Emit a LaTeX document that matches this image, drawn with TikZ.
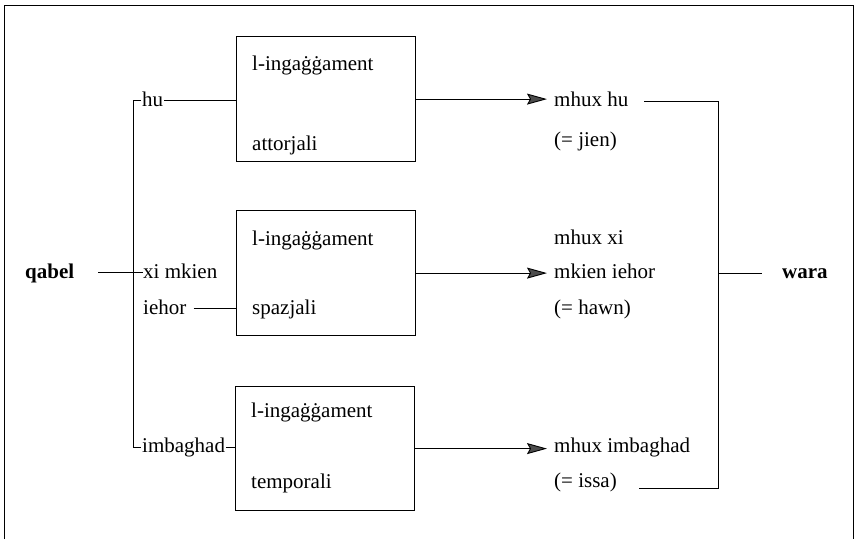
\documentclass[tikz,border=0pt]{standalone}
\usepackage{fontspec}
\setmainfont{Liberation Serif}
\usetikzlibrary{arrows.meta}
\begin{document}
\begin{tikzpicture}[x=1pt,y=-1pt,
  txt/.style={anchor=base west, inner sep=0pt, font=\rmfamily\fontsize{21}{25}\selectfont},
  btxt/.style={txt, font=\rmfamily\fontsize{21}{25}\selectfont\bfseries},
  boxst/.style={draw, line width=1.2pt, minimum width=179pt, minimum height=125pt, anchor=north west, inner sep=0pt},
  ln/.style={line width=0.9pt},
  arr/.style={line width=0.9pt, -{Stealth[length=20pt,width=11pt,inset=3pt,fill=gray!60!black]}}]
\useasboundingbox (0,0) rectangle (855,539);
% frame
\draw[line width=1pt] (4,539) -- (4,5) -- (853,5) -- (853,539);
% boxes
\node[boxst] (b1) at (236,36) {};
\node[boxst] (b2) at (236,210) {};
\node[boxst, minimum height=124pt] (b3) at (235,386) {};
% box texts
\node[txt] (b1a) at (252,70) {l-ingaġġament};
\node[txt] (b1b) at (252,150) {attorjali};
\node[txt] (b2a) at (252,245) {l-ingaġġament};
\node[txt] (b2b) at (252,314) {spazjali};
\node[txt] (b3a) at (251,417) {l-ingaġġament};
\node[txt] (b3b) at (251,488) {temporali};
% left labels
\node[btxt] (qabel) at (25,278) {qabel};
\node[txt] (hu) at (142,106) {hu};
\node[txt] (xi) at (143,278) {xi mkien};
\node[txt] (iehor) at (143,314) {iehor};
\node[txt] (imb) at (142,452) {imbaghad};
% right labels
\node[txt] (m1) at (554,106) {mhux hu};
\node[txt] (m1b) at (554,146) {(= jien)};
\node[txt] (m2) at (554,244) {mhux xi};
\node[txt] (m2b) at (554,278) {mkien iehor};
\node[txt] (m2c) at (554,314) {(= hawn)};
\node[txt] (m3) at (554,452) {mhux imbaghad};
\node[txt] (m3b) at (554,487) {(= issa)};
\node[btxt] (wara) at (782,278) {wara};
% coordinates
\coordinate (tTop) at (133,100);
\coordinate (tBot) at (133,447);
\coordinate (qEnd) at (98,272);
\coordinate (rTop) at (718,101);
\coordinate (rBot) at (718,488);
\coordinate (rMid) at (718,273);
% left tree
\draw[ln] ([xshift=-1pt]hu.west |- tTop) -- (tTop) -- (tBot) -- ([xshift=-1pt]imb.west |- tBot);
\draw[ln] ([xshift=1pt]hu.east |- tTop) -- (b1.west |- tTop);
\draw[ln] (qEnd) -- (xi.west |- qEnd);
\draw[ln] ([xshift=7pt]iehor.east |- 0,308) -- (b2.west |- 0,308);
\draw[ln] ([xshift=1pt]imb.east |- tBot) -- (b3.west |- tBot);
% arrows
\draw[arr] (b1.east) -- ([xshift=-7pt]m1.west |- b1.east);
\draw[arr] (b2.east) -- ([xshift=-7pt]m2b.west |- b2.east);
\draw[arr] (b3.east) -- ([xshift=-7pt]m3.west |- b3.east);
% right bracket
\draw[ln] ([xshift=16pt]m1.east |- rTop) -- (rTop) -- (rBot) -- ([xshift=22pt]m3b.east |- rBot);
\draw[ln] (rMid) -- (762,273);
\end{tikzpicture}
\end{document}
